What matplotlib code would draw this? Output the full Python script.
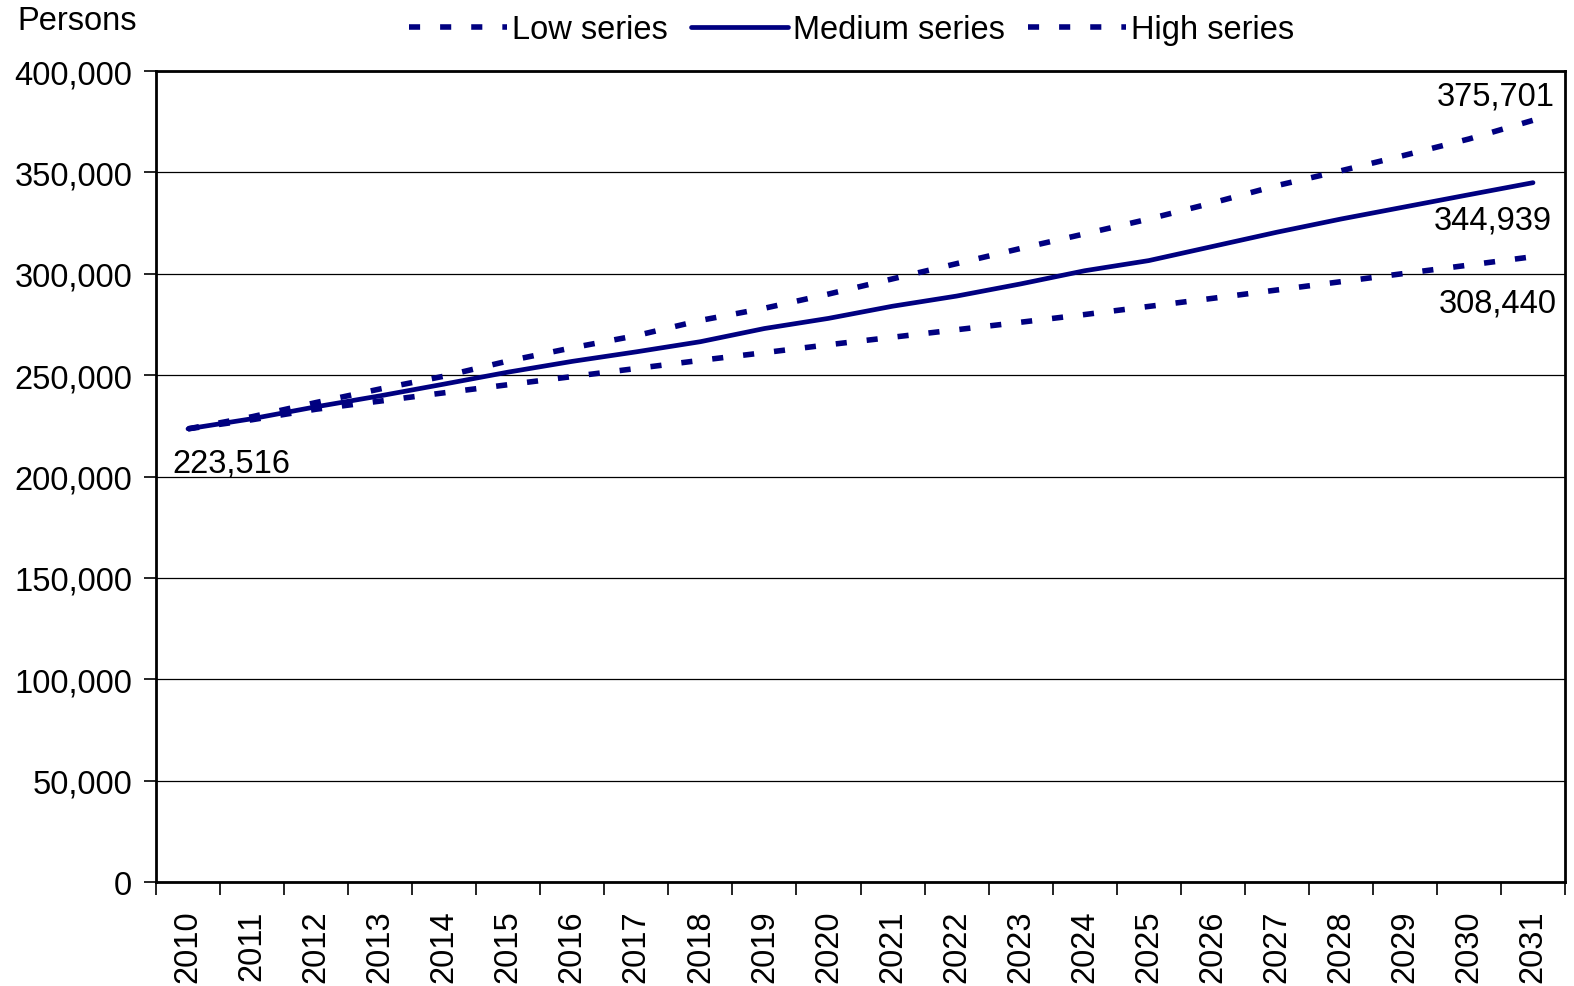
import matplotlib.pyplot as plt
import numpy as np

years = list(range(2010, 2032))
low = [223516, 228000, 233200, 237200, 241300, 245300, 249300, 253300, 257300, 261100, 265000,
       268700, 272400, 276100, 279900, 283900, 287900, 292000, 296100, 300200, 304300, 308440]
medium = [223516, 228500, 234400, 239800, 245600, 251500, 256800, 261500, 266500, 273000, 278000,
          284000, 289000, 295000, 301500, 306500, 313500, 320500, 327000, 333000, 339000, 344939]
high = [223516, 229500, 236500, 243200, 249500, 257000, 263500, 269500, 277000, 283000, 290000,
        297500, 305000, 312500, 319700, 327000, 335000, 343500, 350800, 358500, 366500, 375701]
yticks = list(range(0, 400001, 50000))

plt.rcParams['font.family'] = ['Liberation Sans', 'DejaVu Sans']
navy = '#000080'
fs = 23.5

fig = plt.figure(figsize=(15.74, 9.87), dpi=100)
ax = fig.add_axes([0.0991, 0.1054, 0.8952, 0.8216])

x = np.arange(len(years))
l1, = ax.plot(x, low, color=navy, lw=4.0, dashes=(2.0, 3.6))
l2, = ax.plot(x, medium, color=navy, lw=3.4, solid_capstyle='round')
l3, = ax.plot(x, high, color=navy, lw=4.0, dashes=(2.0, 3.6))

ax.set_xlim(-0.5, len(years) - 0.5)
ax.set_ylim(0, 400000)
ax.set_yticks(yticks)
ax.set_yticklabels([f'{v:,}' for v in yticks], fontsize=fs)
ax.yaxis.grid(True, color='black', lw=0.9)
ax.set_axisbelow(True)

ax.set_xticks(x)
ax.set_xticklabels([str(y) for y in years], rotation=90, fontsize=fs)
ax.set_xticks(np.arange(len(years) + 1) - 0.5, minor=True)
ax.tick_params(axis='x', which='major', length=0, pad=20)
ax.tick_params(axis='x', which='minor', length=9, width=1.2, direction='out')
ax.tick_params(axis='y', length=9, width=1.2, direction='out', pad=8)
for s in ax.spines.values():
    s.set_linewidth(2)

ax.text(-0.25, 206700, f'{low[0]:,}', fontsize=fs, ha='left', va='center')
ax.text(21.34, 387700, f'{high[-1]:,}', fontsize=fs, ha='right', va='center')
ax.text(21.3, 326500, f'{medium[-1]:,}', fontsize=fs, ha='right', va='center')
ax.text(21.37, 285600, f'{low[-1]:,}', fontsize=fs, ha='right', va='center')

fig.text(0.011, 0.978, 'Persons', fontsize=fs, ha='left', va='center')

fig.legend([l1, l2, l3], ['Low series', 'Medium series', 'High series'],
           loc='center', bbox_to_anchor=(0.541, 0.969), ncol=3, frameon=False,
           fontsize=fs, handlelength=3.0, handletextpad=0.15, columnspacing=0.7)

fig.savefig('out.png', dpi=100)
